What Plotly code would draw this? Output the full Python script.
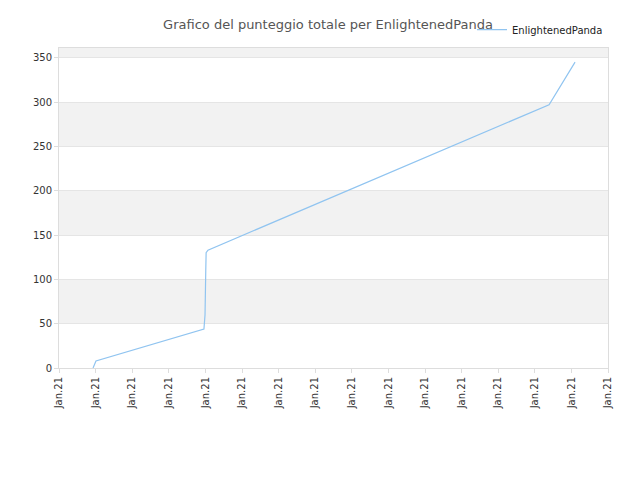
import plotly.graph_objects as go

# x in tick units (each tick labelled "Jan.21")
x_vals = [0.93, 1.01, 3.96, 3.99, 4.01, 4.02, 4.07, 13.39, 14.1]
y_vals = [0, 8, 44, 60, 110, 130, 133, 297, 345]
tick_pos = list(range(16))
tick_text = ["Jan.21"] * 16
band_edges = [50, 150, 250, 350]

fig = go.Figure(go.Scatter(
    x=x_vals, y=y_vals, mode="lines", name="EnlightenedPanda",
    line=dict(color="#90c4f0", width=1.2)
))

# alternating grey bands
for lo in band_edges:
    fig.add_shape(type="rect", xref="paper", yref="y", x0=0, x1=1,
                  y0=lo, y1=min(lo + 50, 361), fillcolor="#f2f2f2",
                  line_width=0, layer="below")

fig.update_layout(
    width=640, height=480,
    paper_bgcolor="white", plot_bgcolor="white",
    margin=dict(l=51, r=40, t=40, b=120, autoexpand=False),
    title=dict(text="Grafico del punteggio totale per EnlightenedPanda",
               x=0.5, xanchor="center", y=0.975, yref="container",
               font=dict(family="DejaVu Sans", size=13, color="#555")),
    font=dict(family="DejaVu Sans", size=10, color="#333"),
    showlegend=True,
    legend=dict(x=1.0, y=0.985, xanchor="right", yanchor="top",
                yref="container", font=dict(size=10, color="#222"),
                bgcolor="rgba(0,0,0,0)"),
    xaxis=dict(range=[0, 15], tickvals=tick_pos, ticktext=tick_text,
               tickangle=-90, showgrid=False, zeroline=False,
               showline=True, linecolor="#ddd", mirror=True, automargin=False,
               ticks="outside", ticklen=4, tickcolor="#ddd"),
    yaxis=dict(range=[0, 361], tickvals=[0, 50, 100, 150, 200, 250, 300, 350],
               showgrid=True, gridcolor="#e5e5e5", zeroline=False, automargin=False,
               showline=True, linecolor="#ddd", mirror=True,
               ticks="outside", ticklen=4, tickcolor="#ddd"),
)

fig.write_html("out.html")
